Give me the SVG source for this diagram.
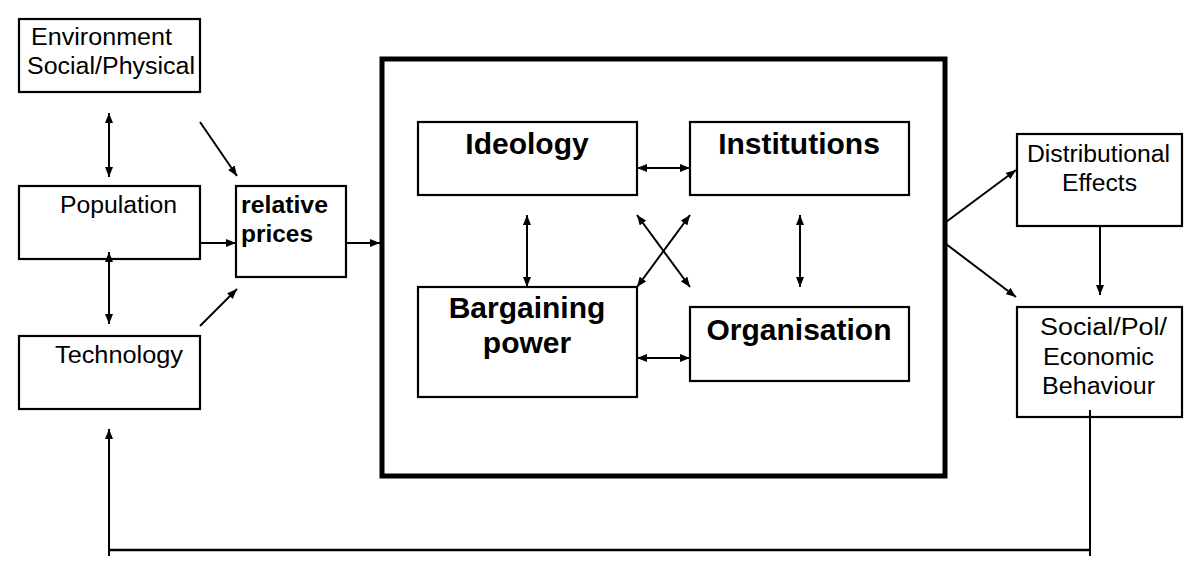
<svg xmlns="http://www.w3.org/2000/svg" width="1200" height="574" viewBox="0 0 1200 574">
<style>
.box{fill:#fff;stroke:#000;stroke-width:2.2}
.big{fill:none;stroke:#000;stroke-width:5}
.t{font-family:"Liberation Sans",Arial,sans-serif;font-size:23.5px;fill:#000}
.tb{font-family:"Liberation Sans",Arial,sans-serif;font-size:23.5px;font-weight:bold;fill:#000}
.ti{font-family:"Liberation Sans",Arial,sans-serif;font-size:30px;font-weight:bold;fill:#000;text-anchor:middle}
.c{fill:none;stroke:#000;stroke-width:2}
</style>
<defs>
<marker id="ah" viewBox="0 0 10 8" refX="10" refY="4" markerWidth="10" markerHeight="8" markerUnits="userSpaceOnUse" orient="auto-start-reverse">
<path d="M0,0 L10,4 L0,8 z" fill="#000"/>
</marker>
</defs>
<g id="env"><rect class="box" x="19" y="19" width="181" height="73"/>
<text class="t" x="31" y="45" textLength="141" lengthAdjust="spacingAndGlyphs">Environment</text>
<text class="t" x="27" y="74" textLength="168" lengthAdjust="spacingAndGlyphs">Social/Physical</text></g>
<g id="population"><rect class="box" x="19" y="186" width="181" height="73"/>
<text class="t" x="60" y="213" textLength="117" lengthAdjust="spacingAndGlyphs">Population</text></g>
<g id="technology"><rect class="box" x="19" y="336" width="181" height="73"/>
<text class="t" x="55" y="363" textLength="128" lengthAdjust="spacingAndGlyphs">Technology</text></g>
<g id="relprices"><rect class="box" x="236" y="186" width="110" height="91"/>
<text class="tb" x="241" y="213" textLength="87" lengthAdjust="spacingAndGlyphs">relative</text>
<text class="tb" x="241" y="242" textLength="72" lengthAdjust="spacingAndGlyphs">prices</text></g>
<g id="frame"><rect class="big" x="382" y="59" width="563" height="417"/></g>
<g id="ideology"><rect class="box" x="418" y="122" width="219" height="73"/>
<text class="ti" x="527" y="154">Ideology</text></g>
<g id="institutions"><rect class="box" x="690" y="122" width="219" height="73"/>
<text class="ti" x="799" y="154">Institutions</text></g>
<g id="bargaining"><rect class="box" x="418" y="287" width="219" height="110"/>
<text class="ti" x="527" y="318">Bargaining</text>
<text class="ti" x="527" y="353">power</text></g>
<g id="organisation"><rect class="box" x="690" y="307" width="219" height="74"/>
<text class="ti" x="799" y="340">Organisation</text></g>
<g id="distributional"><rect class="box" x="1017" y="134" width="165" height="92"/>
<text class="t" x="1027" y="162" textLength="143" lengthAdjust="spacingAndGlyphs">Distributional</text>
<text class="t" x="1062" y="191" textLength="75" lengthAdjust="spacingAndGlyphs">Effects</text></g>
<g id="behaviour"><rect class="box" x="1017" y="307" width="165" height="110"/>
<text class="t" x="1040" y="335" textLength="127" lengthAdjust="spacingAndGlyphs">Social/Pol/</text>
<text class="t" x="1043" y="365" textLength="111" lengthAdjust="spacingAndGlyphs">Economic</text>
<text class="t" x="1042" y="394" textLength="113" lengthAdjust="spacingAndGlyphs">Behaviour</text></g>
<g id="connectors">
<line class="c" x1="109" y1="113" x2="109" y2="177" marker-start="url(#ah)" marker-end="url(#ah)"/>
<line class="c" x1="200" y1="122" x2="237" y2="176" marker-end="url(#ah)"/>
<line class="c" x1="201" y1="243" x2="236" y2="243" marker-end="url(#ah)"/>
<line class="c" x1="109" y1="252" x2="109" y2="324" marker-start="url(#ah)" marker-end="url(#ah)"/>
<line class="c" x1="200" y1="326" x2="237" y2="289" marker-end="url(#ah)"/>
<line class="c" x1="346" y1="243" x2="380" y2="243" marker-end="url(#ah)"/>
<line class="c" x1="637" y1="168" x2="690" y2="168" marker-start="url(#ah)" marker-end="url(#ah)"/>
<line class="c" x1="637" y1="358" x2="690" y2="358" marker-start="url(#ah)" marker-end="url(#ah)"/>
<line class="c" x1="527" y1="215" x2="527" y2="287" marker-start="url(#ah)" marker-end="url(#ah)"/>
<line class="c" x1="800" y1="215" x2="800" y2="287" marker-start="url(#ah)" marker-end="url(#ah)"/>
<line class="c" x1="637" y1="215" x2="690" y2="287" marker-start="url(#ah)" marker-end="url(#ah)"/>
<line class="c" x1="690" y1="215" x2="637" y2="287" marker-start="url(#ah)" marker-end="url(#ah)"/>
<line class="c" x1="946" y1="222" x2="1016" y2="170" marker-end="url(#ah)"/>
<line class="c" x1="946" y1="244" x2="1016" y2="297" marker-end="url(#ah)"/>
<line class="c" x1="1100" y1="225" x2="1100" y2="295" marker-end="url(#ah)"/>
<line class="c" x1="1090" y1="410" x2="1090" y2="556"/>
<line class="c" x1="109" y1="550" x2="1090" y2="550" style="stroke-width:2.5"/>
<line class="c" x1="109" y1="556" x2="109" y2="429" marker-end="url(#ah)"/>
</g>
</svg>
